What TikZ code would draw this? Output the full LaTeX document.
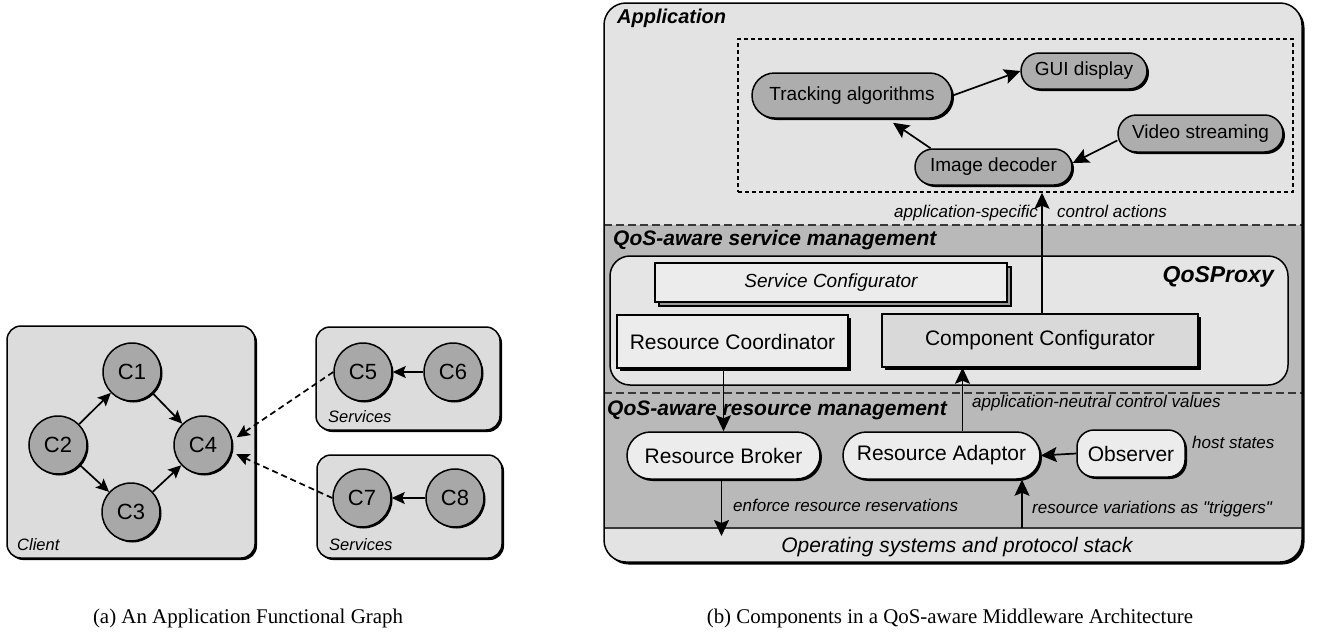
\documentclass[tikz,border=0pt]{standalone}
\usepackage{fontspec}
\setmainfont{Liberation Serif}
\newfontfamily\hv{Liberation Sans}
\usetikzlibrary{shapes.misc,shadows,arrows.meta}

\definecolor{bandlight}{HTML}{E3E3E3}
\definecolor{banddark}{HTML}{B9B9B9}
\definecolor{pillgray}{HTML}{ADADAD}
\definecolor{circgray}{HTML}{A8A8A8}
\definecolor{boxlight}{HTML}{ECECEC}
\definecolor{grpgray}{HTML}{DCDCDC}
\definecolor{proxygray}{HTML}{E5E5E5}
\definecolor{ccgray}{HTML}{D9D9D9}
\definecolor{sepgray}{HTML}{383838}

\newcommand\fsz[1]{\fontsize{#1}{#1}\selectfont}

\tikzset{
  shad/.style={drop shadow={shadow xshift=#1,shadow yshift=-#1,fill=black,opacity=1}},
  shad/.default=2pt,
  circ/.style={circle, draw, line width=1.5pt, fill=circgray, minimum size=58pt,
    inner sep=0pt, font=\hv\fsz{22}, shad=1.5pt},
  grpbox/.style={rectangle, draw, line width=1.5pt, fill=grpgray, rounded corners=14pt,
    inner sep=0pt, shad=2pt},
  pill/.style={rounded rectangle, draw, line width=1.5pt, fill=pillgray, inner sep=0pt,
    font=\hv\fsz{19}, shad=2pt},
  lpill/.style={pill, fill=boxlight, font=\hv\fsz{21}},
  sqbox/.style={rectangle, draw, line width=1.5pt, inner sep=0pt, font=\hv\fsz{21}, shad=3pt},
  smalltip/.tip={Stealth[length=13pt,width=12pt,inset=2.5pt]},
  bigtip/.tip={Stealth[length=16pt,width=15pt,inset=3pt]},
  arr/.style={line width=1.7pt, -smalltip},
  barr/.style={line width=1.7pt, -bigtip},
  dasharr/.style={arr, dash pattern=on 6pt off 4pt},
  grplabel/.style={anchor=base west, font=\hv\itshape\fsz{16.5}, inner sep=0pt},
  bandlabel/.style={anchor=base west, font=\hv\bfseries\itshape\fsz{21}, inner sep=0pt},
  note/.style={anchor=base west, font=\hv\itshape\fsz{17}, inner sep=0pt},
  caption/.style={anchor=base, font=\fsz{20.9}, inner sep=0pt},
}

\begin{document}
\begin{tikzpicture}[x=1pt,y=-1pt]
\useasboundingbox (0,0) rectangle (1317,632);

% ---------------- (a) functional graph ----------------
\node[grpbox, minimum width=248pt, minimum height=232pt] (client) at (131,442) {};
\node[grpbox, minimum width=184pt, minimum height=103pt] (svcA) at (408,378.5) {};
\node[grpbox, minimum width=185pt, minimum height=103pt] (svcB) at (409.5,506.5) {};

\node[grplabel] (lclient) at (17,550) {Client};
\node[grplabel] (lsvcA) at (328,422) {Services};
\node[grplabel] (lsvcB) at (329,550) {Services};

\node[circ] (c1) at (132,372) {C1};
\node[circ] (c2) at (58,445) {C2};
\node[circ] (c3) at (131,512) {C3};
\node[circ] (c4) at (203,445) {C4};
\node[circ] (c5) at (363,372) {C5};
\node[circ] (c6) at (453,372) {C6};
\node[circ] (c7) at (362,498) {C7};
\node[circ] (c8) at (455,498) {C8};

\draw[arr] (c2) -- (c1);
\draw[arr] (c1) -- (c4);
\draw[arr] (c2) -- (c3);
\draw[arr] (c3) -- (c4);
\draw[arr] (c6) -- (c5);
\draw[arr] (c8) -- (c7);
\draw[dasharr] (c5.180) -- ([xshift=5pt]c4.15);
\draw[dasharr] (c7.180) -- ([xshift=5pt]c4.-18);

% ---------------- (b) middleware architecture ----------------
% outer frame with its shadow and the horizontal bands
\fill[black, rounded corners=22pt] (606.5,5.5) rectangle (1304.5,564.5);
\begin{scope}
  \clip[rounded corners=22pt] (604,3) rectangle (1302,562);
  \fill[bandlight] (604,3) rectangle (1302,562);
  \fill[banddark] (604,225) rectangle (1302,528);
  \draw[sepgray, line width=1.4pt, dash pattern=on 8pt off 4pt] (604,225) -- (1302,225);
  \draw[sepgray, line width=1.4pt, dash pattern=on 8pt off 4pt] (604,393) -- (1302,393);
  \draw[sepgray, line width=1.3pt] (604,528) -- (1302,528);
\end{scope}
\draw[line width=1.5pt, rounded corners=22pt] (604,3) rectangle (1302,562);

\node[bandlabel, font=\hv\bfseries\itshape\fsz{20}] (lapp) at (617,23) {Application};
\node[bandlabel] (lsvcm) at (613,245) {QoS-aware service management};
\node[bandlabel] (lresm) at (607,415) {QoS-aware resource management};

% application components
\node[draw, line width=1.5pt, dash pattern=on 4pt off 3pt, minimum width=555pt,
      minimum height=153pt, inner sep=0pt] (appbox) at (1015.5,115.5) {};
\node[pill, minimum width=200pt, minimum height=45pt] (track) at (852,95.5) {Tracking algorithms};
\node[pill, minimum width=126pt, minimum height=36pt] (gui) at (1084,71) {GUI display};
\node[pill, minimum width=165pt, minimum height=37pt] (video) at (1200.5,133.5) {Video streaming};
\node[pill, minimum width=157pt, minimum height=36pt] (img) at (993.5,167) {Image decoder};

\draw[barr] (track.east) -- (gui.west);
\draw[barr] ([xshift=-63pt]img.north) -- ([xshift=41pt,yshift=-4pt]track.south);
\draw[barr] ([yshift=-7pt]video.west) -- ([yshift=4pt]img.east);

% QoS proxy
\node[draw, line width=1.5pt, fill=proxygray, rounded corners=20pt, minimum width=678pt,
      minimum height=129pt, inner sep=0pt] (proxy) at (949,320.5) {};
\node[anchor=base east, font=\hv\bfseries\itshape\fsz{23}, inner sep=0pt] (lproxy)
      at (1274,282) {QoSProxy};
\node[rectangle, draw, line width=1.5pt, fill=boxlight, inner sep=0pt,
      minimum width=352pt, minimum height=39pt, font=\hv\itshape\fsz{19},
      general shadow={shadow xshift=4pt, shadow yshift=-4pt, fill=gray!80, draw=black, line width=1.2pt}]
      (svc) at (831,282.5) {Service Configurator};
\node[sqbox, fill=boxlight, minimum width=231pt, minimum height=53pt] (rc) at (732.5,341.5)
      {Resource Coordinator};
\node[sqbox, fill=ccgray, minimum width=316pt, minimum height=53pt] (cc) at (1040,340.5)
      {Component Configurator};

\draw[barr] ([xshift=2pt]cc.north) -- ([xshift=2pt]cc.north |- appbox.south);
\node[anchor=base east, font=\hv\itshape\fsz{17}, inner sep=0pt] (lspec) at (1038,217)
      {application-specific};
\node[note] (lctrl) at (1057,217) {control actions};

% resource management
\node[lpill, minimum width=193pt, minimum height=47pt] (broker) at (723.5,455.5) {Resource Broker};
\node[lpill, minimum width=197pt, minimum height=47pt] (adaptor) at (941.5,455.5) {Resource Adaptor};
\node[rectangle, draw, line width=1.5pt, fill=boxlight, rounded corners=17pt, inner sep=0pt,
      minimum width=108pt, minimum height=47pt, font=\hv\fsz{21}, shad=2pt]
      (obs) at (1131,453.5) {Observer};

\draw[barr] (broker.north |- rc.south) -- (broker.north);
\draw[barr] ([xshift=21pt]adaptor.north) -- ([xshift=21pt]adaptor.north |- cc.south);
\draw[barr] (obs.west) -- (adaptor.east);

\coordinate (osL) at (721.5,536);
\coordinate (osR) at (1022,528);
\draw[barr] (broker.south -| osL) -- (osL);
\draw[barr] (osR) -- (osR |- adaptor.south);

\node[note] (lneutral) at (972,407) {application-neutral control values};
\node[note] (lhost) at (1192,448) {host states};
\node[note] (lenf) at (733,511) {enforce resource reservations};
\node[note] (ltrig) at (1032,513) {resource variations as "triggers"};
\node[anchor=base, font=\hv\itshape\fsz{21}, inner sep=0pt] (los) at (957,552)
      {Operating systems and protocol stack};

% captions
\node[caption] (capa) at (248,623) {(a) An Application Functional Graph};
\node[caption] (capb) at (950,623) {(b) Components in a QoS-aware Middleware Architecture};
\end{tikzpicture}
\end{document}
